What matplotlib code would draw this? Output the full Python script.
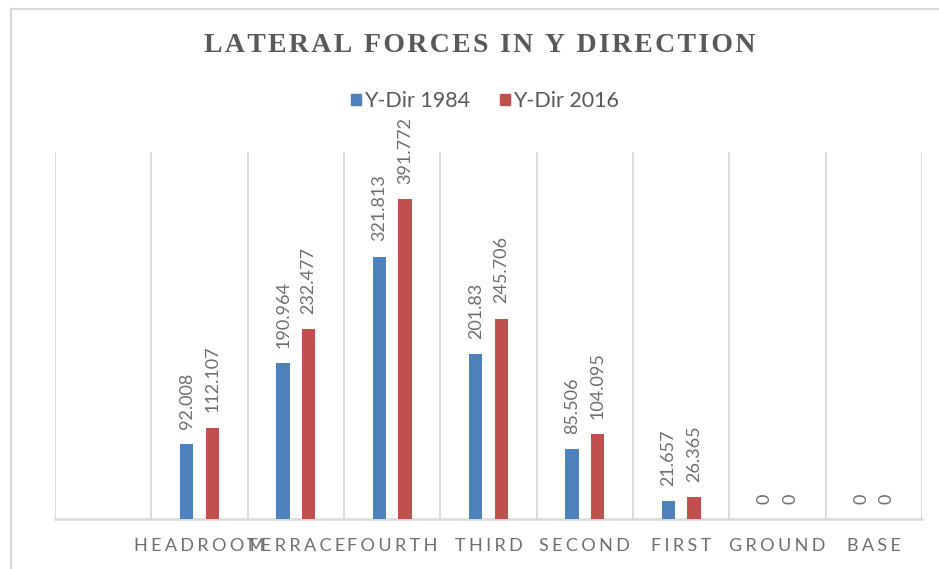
import numpy as np
import matplotlib.pyplot as plt
from matplotlib.lines import Line2D
from matplotlib.patches import Patch

# data
categories = ["", "HEADROOM", "TERRACE", "FOURTH", "THIRD", "SECOND", "FIRST", "GROUND", "BASE"]
y_1984 = [np.nan, 92.008, 190.964, 321.813, 201.83, 85.506, 21.657, 0, 0]
y_2016 = [np.nan, 112.107, 232.477, 391.772, 245.706, 104.095, 26.365, 0, 0]
series_names = ["Y-Dir 1984", "Y-Dir 2016"]
title = "LATERAL FORCES IN Y DIRECTION"

BLUE = "#4F81BD"
RED = "#C0504D"
GRID = "#D9D9D9"
TEXT = "#595959"
SANS = ["Lato", "DejaVu Sans"]

W, H = 939, 569
fig = plt.figure(figsize=(W / 100, H / 100), dpi=100)
fig.patch.set_facecolor("white")

# plot area in pixels: x 55..922, y 152..519
ax = fig.add_axes([55 / W, 1 - 519 / H, (922 - 55) / W, (519 - 152) / H])

x = np.arange(len(categories))
bw = 0.138
off = 0.132
b1 = ax.bar(x - off, y_1984, bw, color=BLUE, zorder=3)
b2 = ax.bar(x + off, y_2016, bw, color=RED, zorder=3)

for bars, vals in ((b1, y_1984), (b2, y_2016)):
    for rect, v in zip(bars, vals):
        if np.isnan(v):
            continue
        ax.annotate("{:g}".format(v), (rect.get_x() + rect.get_width() / 2, v),
                    xytext=(0, 11), textcoords="offset points",
                    rotation=90, ha="center", va="bottom",
                    fontsize=13, color="#6E6E6E", family=SANS)

ax.set_xlim(-0.5, len(categories) - 0.5)
ax.set_ylim(0, 450)

# vertical category gridlines
ax.vlines(np.arange(len(categories) + 1) - 0.5, 0, 450, color=GRID, lw=1.3, zorder=1)

for s in ("top", "right", "left"):
    ax.spines[s].set_visible(False)
ax.spines["bottom"].set_color(GRID)
ax.spines["bottom"].set_linewidth(1.8)
ax.set_yticks([])
ax.set_xticks(x)
ax.set_xticklabels(["\u2009\u200a".join(c) for c in categories],
                   fontsize=13, color="#6E6E6E", family=SANS)
ax.tick_params(axis="x", length=0, pad=14)

fig.text(480 / W, 1 - 45 / H, "\u200a".join(title), ha="center", va="center",
         fontsize=20, fontweight="bold", color=TEXT,
         family=["Liberation Serif", "DejaVu Serif"])

handles = [Patch(color=BLUE), Patch(color=RED)]
fig.legend(handles, series_names, loc="center", bbox_to_anchor=(485 / W, 1 - 101 / H),
           ncol=2, frameon=False, handlelength=0.45, handleheight=0.45, handletextpad=0.15,
           columnspacing=1.4, prop={"family": SANS, "size": 15.5},
           labelcolor=TEXT)

# outer chart border (left and top visible in the crop)
fig.add_artist(Line2D([10.5 / W, 10.5 / W], [0, 1 - 9 / H], color=GRID, lw=1.5))
fig.add_artist(Line2D([10.5 / W, 1], [1 - 9 / H, 1 - 9 / H], color=GRID, lw=1.5))

fig.savefig("out.png", dpi=100)
